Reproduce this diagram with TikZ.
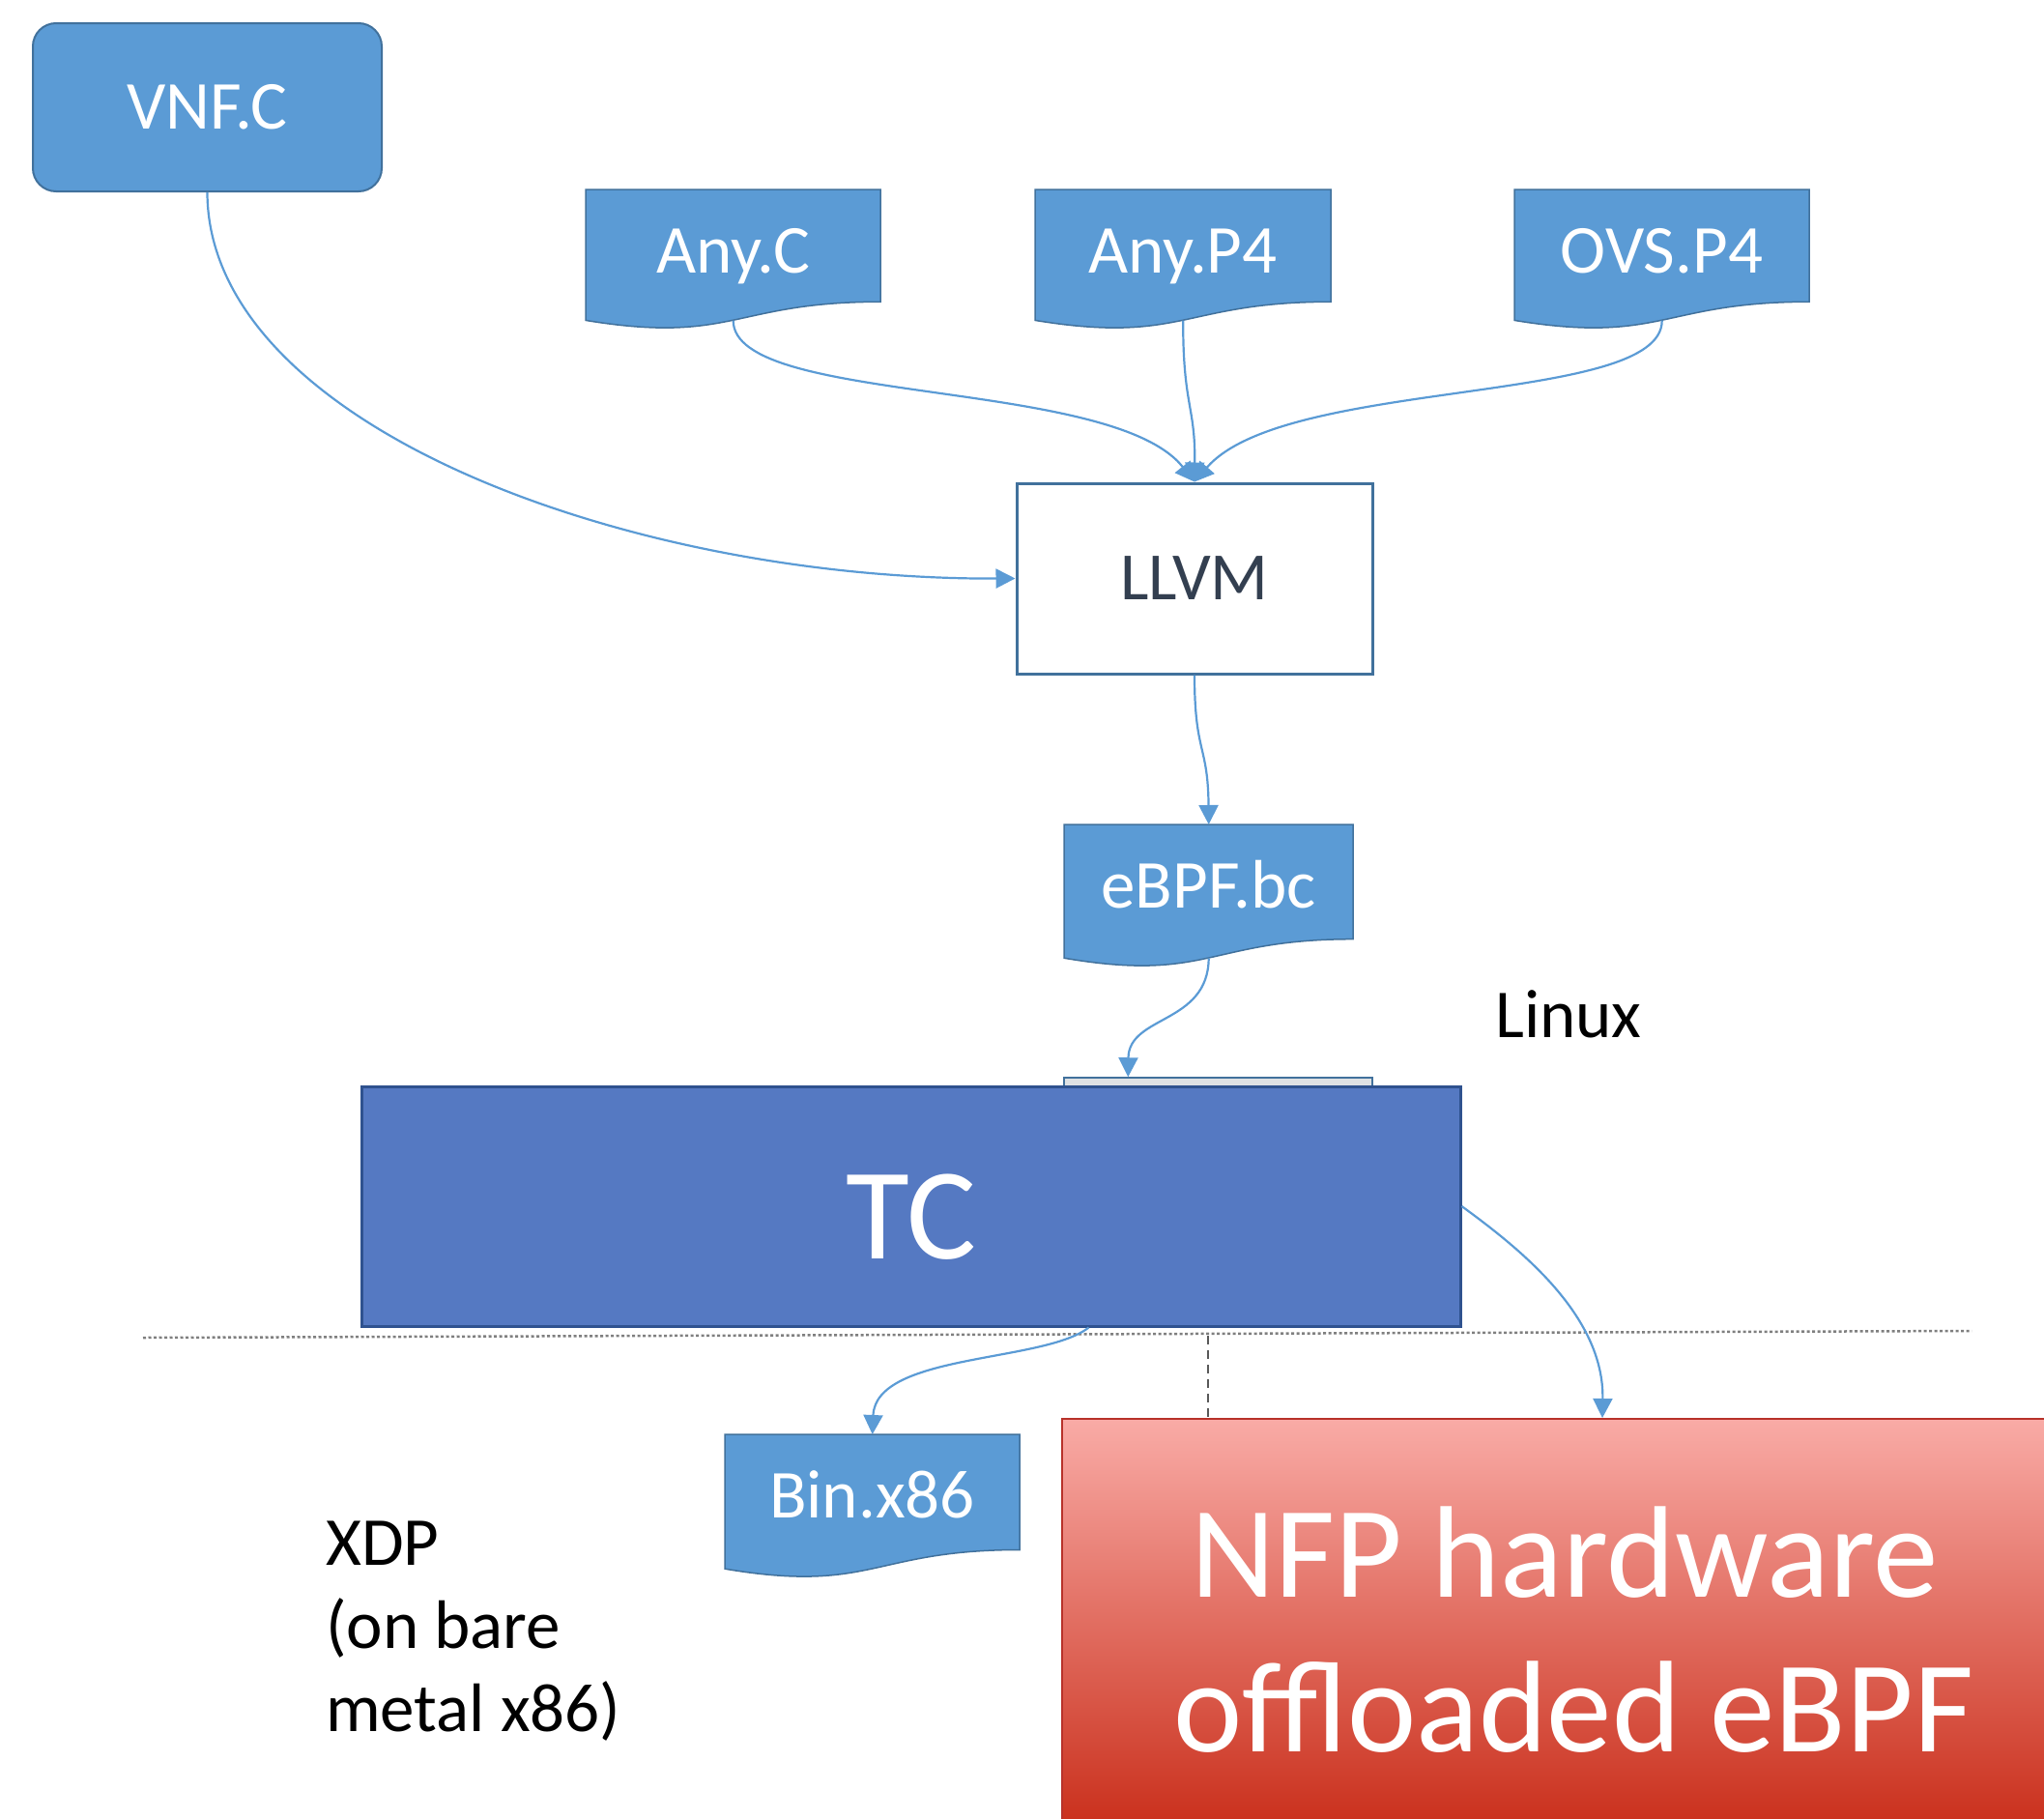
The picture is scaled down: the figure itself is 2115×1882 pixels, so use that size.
\documentclass[tikz,border=0pt]{standalone}
\usepackage{fontspec}
\setmainfont{Carlito}
\usetikzlibrary{arrows.meta,calc}
\definecolor{docblue}{HTML}{5B9BD5}
\definecolor{docedge}{HTML}{41719C}
\definecolor{conn}{HTML}{5B9BD5}
\definecolor{tcfill}{HTML}{5579C2}
\definecolor{tcedge}{HTML}{2F528F}
\definecolor{llvmtext}{HTML}{333F50}
\definecolor{nfptop}{HTML}{F9ABA6}
\definecolor{nfpbot}{HTML}{C92E1A}
\definecolor{nfpedge}{HTML}{B8322A}
\definecolor{sepgray}{HTML}{7F7F7F}
\newcommand\docnode[6]{%
  \node[docframe, minimum width=#4pt, minimum height={0.933*#5pt}, anchor=north west] (#1) at (#2,#3) {};
  \filldraw[docfill] (#2,#3) -- ({#2+#4},#3) -- ({#2+#4},{#3+0.802*#5})
    .. controls ({#2+0.5*#4},{#3+0.802*#5}) and ({#2+0.5*#4},{#3+1.107*#5}) .. (#2,{#3+0.934*#5}) -- cycle;
  \node[doctext, anchor=base] (#1-text) at ({#2+0.5*#4},{#3+86}) {#6};
}
\begin{document}
\begin{tikzpicture}[x=1pt,y=-1pt,
  docframe/.style={draw=none, inner sep=0pt},
  docfill/.style={fill=docblue, draw=docedge, line width=1.5pt},
  doctext/.style={text=white, font=\fontsize{71}{85}\selectfont, inner sep=0pt},
  plaintext/.style={text=black, font=\fontsize{71}{86}\selectfont, inner sep=0pt},
  vnfbox/.style={fill=docblue, draw=docedge, line width=2pt, rounded corners=24pt, inner sep=0pt,
    text=white, font=\fontsize{71}{85}\selectfont},
  llvmbox/.style={fill=white, draw=docedge, line width=3pt, inner sep=0pt,
    text=llvmtext, font=\fontsize{70}{85}\selectfont},
  tcbox/.style={fill=tcfill, draw=tcedge, line width=3pt, inner sep=0pt},
  barbox/.style={fill=docblue!35!black!15, draw=docedge, line width=1.5pt, inner sep=0pt},
  nfpbox/.style={top color=nfptop, bottom color=nfpbot, draw=nfpedge, line width=2pt, inner sep=0pt},
  bigtext/.style={text=white, font=\fontsize{135}{160}\selectfont, inner sep=0pt},
  conn/.style={draw=conn, line width=2.2pt, -{Triangle[width=20pt,length=20pt]}},
  sepline/.style={draw=sepgray, line width=2.5pt, dash pattern=on 3pt off 2.5pt},
  dashsep/.style={draw=black!65, line width=2pt, dash pattern=on 9pt off 6pt}
]
\useasboundingbox (0,0) rectangle (2115,1882);

% top row
\node[vnfbox, minimum width=361pt, minimum height=174pt] (vnf) at (214.5,111) {VNF.C};
\docnode{anyc}{606}{196}{305}{145}{Any.C}
\docnode{anyp4}{1071}{196}{306}{145}{Any.P4}
\docnode{ovsp4}{1567}{196}{305}{145}{OVS.P4}

% LLVM
\node[llvmbox, minimum width=368pt, minimum height=197pt] (llvm) at (1236,598.5) {LLVM};

% eBPF.bc
\docnode{ebpf}{1101}{853}{299}{148}{eBPF.bc}

\node[plaintext, anchor=base west] (linux) at (1547,1073) {Linux};

% TC
\node[barbox, minimum width=319pt, minimum height=10pt] (tcback) at (1260.5,1120) {};
\node[tcbox, minimum width=1137pt, minimum height=248pt] (tc) at (942.5,1248) {};
\node[bigtext, anchor=base] (tclabel) at (943,1302) {TC};

% separators
\coordinate (sepL) at (148,1384);
\coordinate (sepR) at (2040,1377);
\draw[sepline] (sepL) -- (sepR);

% NFP
\node[nfpbox, minimum width=1026pt, minimum height=427pt] (nfp) at (1612,1681.5) {};
\node[bigtext, anchor=base] (nfp1) at (1619,1652) {NFP hardware};
\node[bigtext, anchor=base] (nfp2) at (1628,1812) {offloaded eBPF};

\coordinate (dashtop) at (1250,1382);
\draw[dashsep] (dashtop) -- (dashtop |- nfp.north);

% Bin.x86
\docnode{binx}{750}{1484}{305}{149}{Bin.x86}

% XDP
\node[plaintext, anchor=base west, align=left] (xdp) at (337,1791) {XDP\\(on bare\\metal x86)};

% connectors
\draw[conn] (vnf.south) .. controls (215,440) and (650,600) .. (llvm.west);
\draw[conn] (anyc.south) .. controls (759,420) and (1150,390) .. (llvm.north);
\draw[conn] (anyp4.south) .. controls (1224,420) and (1237,420) .. (llvm.north);
\draw[conn] (ovsp4.south) .. controls (1720,420) and (1330,390) .. (llvm.north);
\draw[conn] (llvm.south) .. controls (1236,780) and (1250,770) .. (ebpf.north);
\draw[conn] (ebpf.south) .. controls (1250,1060) and (1168,1050) .. ([xshift=67pt]tcback.north west);
\draw[conn] ([xshift=754pt]tc.south west) .. controls (1080,1410) and (906,1400) .. (binx.north);
\draw[conn] (tc.east) .. controls (1570,1290) and (1660,1360) .. ([xshift=560pt]nfp.north west);
\end{tikzpicture}
\end{document}
